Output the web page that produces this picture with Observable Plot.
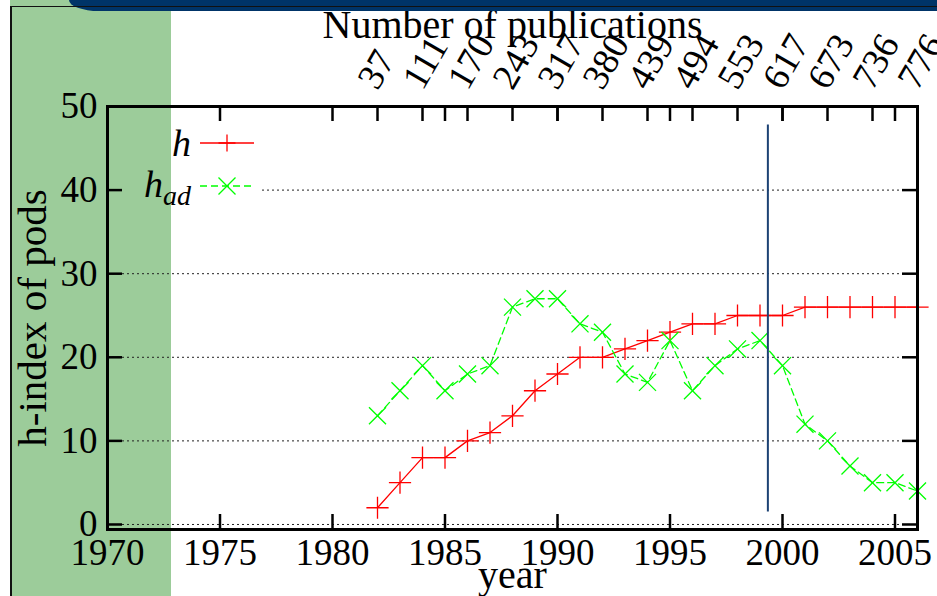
<!DOCTYPE html>
<html>
<head>
<meta charset="utf-8">
<script src="https://cdn.jsdelivr.net/npm/d3@7"></script>
<script src="https://cdn.jsdelivr.net/npm/@observablehq/plot@0.6"></script>
<style>
  html, body { margin: 0; padding: 0; background: white; }
  #wrap { position: relative; width: 937px; height: 596px; overflow: hidden; }
  #band { position: absolute; left: 10px; top: 0; width: 161px; height: 596px; background: #9ccc9a; z-index: 0; }
  #edge { position: absolute; left: 10px; top: 6px; width: 1.5px; height: 590px; background: #111; z-index: 3; }
  #bar { position: absolute; left: 69px; top: 0; width: 868px; height: 11px; background: #003468; border-bottom-left-radius: 30px 11px; z-index: 3; }
  #rule { position: absolute; left: 10px; top: 5.5px; width: 927px; height: 1.5px; background: #111; z-index: 4; }
  #chart { position: absolute; left: 0; top: 0; z-index: 1; }
  #legend { position: absolute; left: 0; top: 0; z-index: 2; pointer-events: none; }
</style>
</head>
<body>
<div id="wrap">
  <div id="band"></div>
  <div id="chart"></div>
  <svg id="legend" width="937" height="596" font-family="'Liberation Serif', serif" font-size="38">
    <text x="191" y="156" text-anchor="end" font-style="italic">h</text>
    <line x1="200" y1="143" x2="254" y2="143" stroke="#ff0000" stroke-width="1.3"/>
    <path d="M218.5,143h17M227,134.5v17" stroke="#ff0000" stroke-width="1.3" fill="none"/>
    <text x="191" y="197" text-anchor="end" font-style="italic">h<tspan font-size="28" dy="8">ad</tspan></text>
    <line x1="200" y1="186" x2="254" y2="186" stroke="#00ff00" stroke-width="1.3" stroke-dasharray="7,4"/>
    <path d="M218.5,177.5l17,17M235.5,177.5l-17,17" stroke="#00ff00" stroke-width="1.3" fill="none"/>
  </svg>
  <div id="edge"></div>
  <div id="bar"></div>
  <div id="rule"></div>
</div>
<script>
// ---- data ----
const years  = [1982,1983,1984,1985,1986,1987,1988,1989,1990,1991,1992,1993,1994,1995,1996,1997,1998,1999,2000,2001,2002,2003,2004,2005,2006];
const hIndex = [2,5,8,8,10,11,13,16,18,20,20,21,22,23,24,24,25,25,25,26,26,26,26,26,26];
const hAd    = [13,16,19,16,18,19,26,27,27,24,23,18,17,22,16,19,21,22,19,12,10,7,5,5,4];
const pubYears  = [1982,1984,1986,1988,1990,1992,1994,1996,1998,2000,2002,2004,2006];
const pubCounts = [37,111,170,243,317,380,439,494,553,617,673,736,776];
const yearTicks = [1970,1975,1980,1985,1990,1995,2000,2005];
const yTicks = [0,10,20,30,40,50];
const gridFull = [0,10,20,30];
const gridKey = [40];
const markerLine = [{year: 1999.35, from: 1.5, to: 47.8}];
const xTitle = ["year"], x2Title = ["Number of publications"], yTitle = ["h-index of pods"];

const rows = years.map((year, i) => ({year, h: hIndex[i], hAd: hAd[i]}));

const W = 937, H = 596, mL = 107, mR = 20, mT = 106, mB = 67;
const plotW = W - mL - mR, plotH = H - mT - mB, tk = 15;
const gridStyle = {stroke: "#222", strokeOpacity: 1, strokeWidth: 1, strokeDasharray: "2,3"};

const chart = Plot.plot({
  width: W, height: H,
  marginLeft: mL, marginRight: mR, marginTop: mT, marginBottom: mB,
  style: {background: "transparent", fontFamily: "'Liberation Serif', serif", fontSize: "37px", color: "black", overflow: "visible"},
  x: {domain: [1970, 2006]},
  y: {domain: [-0.6, 50]},
  marks: [
    Plot.gridY(gridFull, gridStyle),
    Plot.gridY(gridKey, {...gridStyle, insetLeft: 155}),
    Plot.axisX(yearTicks, {anchor: "bottom", tickSize: 0, tickPadding: 9, tickFormat: d => String(d), label: null}),
    Plot.axisY(yTicks, {anchor: "left", tickSize: 0, tickPadding: 10, tickFormat: d => String(d), label: null}),
    // top axis: number of publications
    Plot.text(pubYears, {x: d => d, frameAnchor: "top", dy: -15, rotate: -60, textAnchor: "start", lineAnchor: "bottom",
      text: d => String(pubCounts[pubYears.indexOf(d)]), fontSize: 37}),
    // axis titles
    Plot.text(x2Title, {frameAnchor: "top", dy: -69, textAnchor: "middle", lineAnchor: "bottom", fontSize: 40}),
    Plot.text(xTitle, {frameAnchor: "bottom", dy: 58, textAnchor: "middle", lineAnchor: "bottom", fontSize: 40}),
    Plot.text(yTitle, {frameAnchor: "left", dx: -75, rotate: -90, textAnchor: "middle", lineAnchor: "middle", fontSize: 41}),
    // inward ticks
    Plot.tickX(yearTicks, {x: d => d, insetTop: plotH - tk, strokeWidth: 2.5, stroke: "black"}),
    Plot.tickX(yearTicks.concat(pubYears), {x: d => d, insetBottom: plotH - tk, strokeWidth: 2.5, stroke: "black"}),
    Plot.tickY(yTicks, {y: d => d, insetRight: plotW - tk, strokeWidth: 2.5, stroke: "black"}),
    Plot.tickY(yTicks, {y: d => d, insetLeft: plotW - tk, strokeWidth: 2.5, stroke: "black"}),
    // series
    Plot.line(rows, {x: "year", y: "h", stroke: "#ff0000", strokeWidth: 1.3}),
    Plot.dot(rows, {x: "year", y: "h", symbol: "plus", r: 7.2, stroke: "#ff0000", strokeWidth: 1.3}),
    Plot.line(rows, {x: "year", y: "hAd", stroke: "#00ff00", strokeWidth: 1.3, strokeDasharray: "7,4"}),
    Plot.dot(rows, {x: "year", y: "hAd", symbol: "times", r: 7.8, stroke: "#00ff00", strokeWidth: 1.3}),
    Plot.ruleX(markerLine, {x: "year", y1: "from", y2: "to", stroke: "#1c4274", strokeWidth: 2}),
    Plot.frame({stroke: "black", strokeWidth: 3})
  ]
});
document.getElementById("chart").appendChild(chart);
</script>
</body>
</html>
